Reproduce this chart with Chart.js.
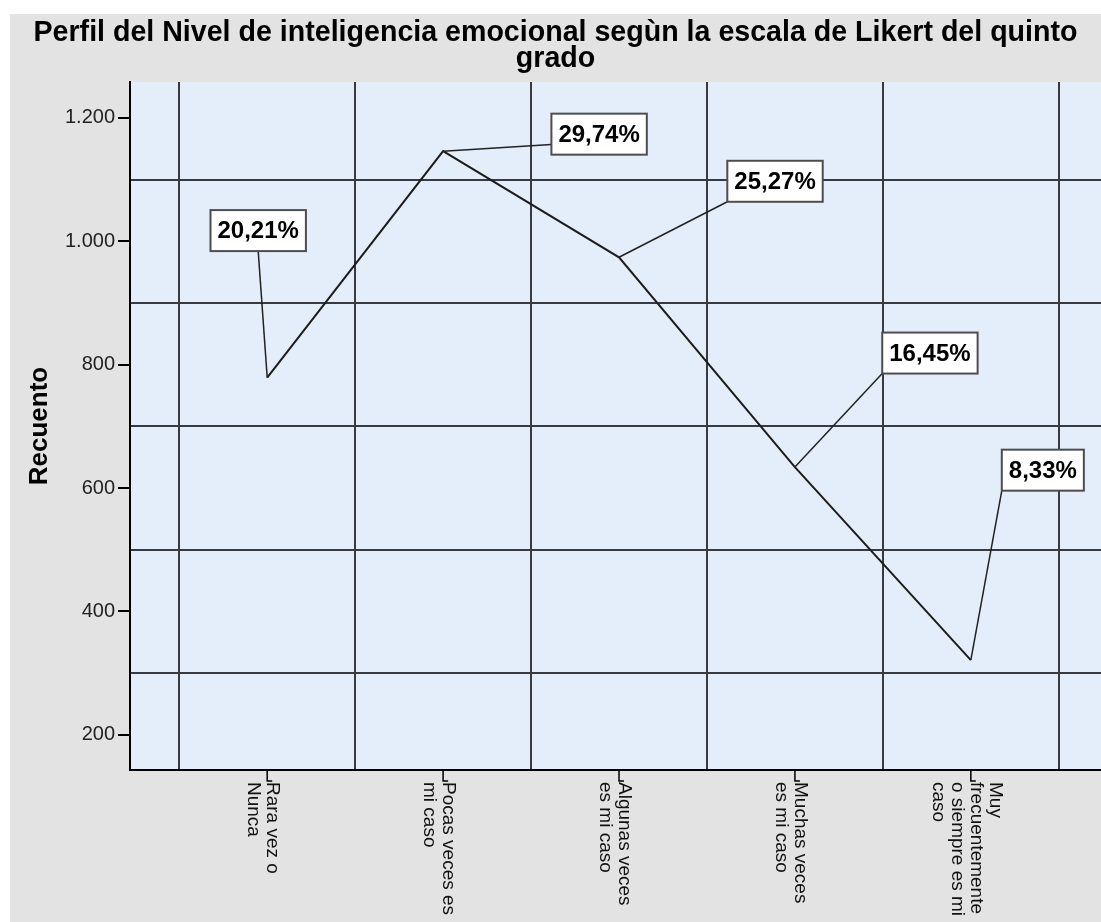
<!DOCTYPE html>
<html>
<head>
<meta charset="utf-8">
<title>Perfil del Nivel de inteligencia emocional</title>
<script src="https://cdn.jsdelivr.net/npm/chart.js"></script>
<style>
    body { margin: 0; background: #fff; }
    #wrap { width: 1101px; height: 922px; }
</style>
</head>
<body>
<div id="wrap"><canvas id="likertChart"></canvas></div>
<script>
// Categorías de la escala (cada una partida en líneas como en el gráfico)
var categories = [
    ['Rara vez o', 'Nunca'],
    ['Pocas veces es', 'mi caso'],
    ['Algunas veces', 'es mi caso'],
    ['Muchas veces', 'es mi caso'],
    ['Muy', 'frecuentemente', 'o siempre es mi', 'caso']
];
var counts = [779, 1146, 974, 634, 321];
var percents = ['20,21%', '29,74%', '25,27%', '16,45%', '8,33%'];
var yTickValues = [200, 400, 600, 800, 1000, 1200];
var yGridValues = [300, 500, 700, 900, 1100];

var FONT = '"Liberation Sans", Arial, sans-serif';
Chart.defaults.font.family = FONT;

function fmt(v) {
    return String(v).replace(/\B(?=(\d{3})+(?!\d))/g, '.');
}

// fondo gris + área del gráfico azul claro
var backgroundPlugin = {
    id: 'spssBackground',
    beforeDraw: function (chart) {
        var ctx = chart.ctx, a = chart.chartArea;
        ctx.save();
        ctx.fillStyle = '#ffffff';
        ctx.fillRect(0, 0, chart.width, chart.height);
        ctx.fillStyle = '#e3e3e3';
        ctx.fillRect(10, 14, chart.width - 10, chart.height - 14);
        ctx.fillStyle = '#e3eefa';
        ctx.fillRect(a.left, a.top, a.right - a.left, a.bottom - a.top);
        ctx.restore();
    }
};

// etiquetas de porcentaje con línea guía
var calloutPlugin = {
    id: 'callouts',
    afterDatasetsDraw: function (chart, args, opts) {
        var ctx = chart.ctx;
        var meta = chart.getDatasetMeta(0);
        ctx.save();
        ctx.font = 'bold 24px ' + FONT;
        ctx.textAlign = 'center';
        ctx.textBaseline = 'middle';
        meta.data.forEach(function (pt, i) {
            var p = opts.places[i];
            var w = ctx.measureText(percents[i]).width + 14;
            var h = 41;
            var cx = pt.x + p.dx, cy = pt.y + p.dy;
            var left = cx - w / 2, top = cy - h / 2;
            ctx.strokeStyle = '#222';
            ctx.lineWidth = 1.5;
            ctx.beginPath();
            ctx.moveTo(left + p.ax * w, top + p.ay * h);
            ctx.lineTo(pt.x, pt.y);
            ctx.stroke();
            ctx.fillStyle = '#fff';
            ctx.fillRect(left, top, w, h);
            ctx.strokeStyle = '#4d4d4d';
            ctx.lineWidth = 2;
            ctx.strokeRect(left, top, w, h);
            ctx.fillStyle = '#000';
            ctx.fillText(percents[i], cx, cy + 1);
        });
        ctx.restore();
    }
};

// etiquetas verticales del eje x (giradas hacia abajo) con su marca en L
var xLabelPlugin = {
    id: 'xLabels',
    afterDraw: function (chart) {
        var ctx = chart.ctx;
        var xs = chart.scales.x;
        var y0 = chart.chartArea.bottom;
        var pitch = 19;
        ctx.save();
        ctx.font = '19px ' + FONT;
        ctx.fillStyle = '#111';
        ctx.strokeStyle = '#000';
        ctx.lineWidth = 1.5;
        ctx.textAlign = 'left';
        ctx.textBaseline = 'middle';
        categories.forEach(function (lines, i) {
            var x = xs.getPixelForValue(i);
            ctx.beginPath();
            ctx.moveTo(x, y0);
            ctx.lineTo(x, y0 + 11);
            ctx.lineTo(x + 5, y0 + 11);
            ctx.stroke();
            ctx.save();
            ctx.translate(x, y0 + 12);
            ctx.rotate(Math.PI / 2);
            lines.forEach(function (line, j) {
                ctx.fillText(line, 0, (j - (lines.length - 1) / 2) * pitch + 4);
            });
            ctx.restore();
        });
        ctx.restore();
    }
};

new Chart(document.getElementById('likertChart').getContext('2d'), {
    type: 'line',
    data: {
        datasets: [{
            label: 'Recuento',
            data: counts.map(function (c, i) { return { x: i, y: c }; }),
            borderColor: '#1c1c1c',
            borderWidth: 2,
            pointRadius: 0,
            tension: 0,
            fill: false
        }]
    },
    options: {
        responsive: true,
        maintainAspectRatio: false,
        animation: false,
        layout: { padding: { left: 10, top: 14, right: 0, bottom: 0 } },
        plugins: {
            legend: { display: false },
            tooltip: { enabled: false },
            title: {
                display: true,
                text: ['Perfil del Nivel de inteligencia emocional segùn la escala de Likert del quinto', 'grado'],
                color: '#000',
                font: { size: 28.6, weight: 'bold', lineHeight: 0.91 },
                padding: { top: 6, bottom: 10 }
            },
            callouts: {
                places: [
                    { dx: -9, dy: -147, ax: 0.5, ay: 1 },
                    { dx: 156, dy: -17, ax: 0, ay: 0.75 },
                    { dx: 156, dy: -76, ax: 0, ay: 1 },
                    { dx: 135, dy: -114, ax: 0, ay: 1 },
                    { dx: 72, dy: -190, ax: 0, ay: 1 }
                ]
            }
        },
        scales: {
            x: {
                type: 'linear',
                min: -0.78,
                max: 4.74,
                afterBuildTicks: function (s) {
                    s.ticks = categories.map(function (c, i) { return { value: i }; });
                },
                afterFit: function (s) { s.height = 152; },
                ticks: { display: false },
                grid: { offset: true, color: '#373b41', lineWidth: 2, drawTicks: false },
                border: { display: true, color: '#000', width: 2 }
            },
            y: {
                min: 143,
                max: 1258,
                afterBuildTicks: function (s) {
                    s.ticks = yTickValues.concat(yGridValues)
                        .sort(function (a, b) { return a - b; })
                        .map(function (v) { return { value: v }; });
                },
                afterFit: function (s) { s.width = 120; },
                ticks: {
                    color: '#222',
                    font: { size: 20 },
                    padding: 3,
                    autoSkip: false,
                    callback: function (v) { return yTickValues.indexOf(v) >= 0 ? fmt(v) : ''; }
                },
                grid: {
                    color: function (c) { return yGridValues.indexOf(c.tick.value) >= 0 ? '#373b41' : 'rgba(0,0,0,0)'; },
                    tickColor: function (c) { return yTickValues.indexOf(c.tick.value) >= 0 ? '#000' : 'rgba(0,0,0,0)'; },
                    lineWidth: 2,
                    tickLength: 12
                },
                border: { display: true, color: '#000', width: 2 },
                title: {
                    display: true,
                    text: 'Recuento',
                    color: '#000',
                    font: { size: 26, weight: 'bold' },
                    padding: { top: 14, bottom: 0 }
                }
            }
        }
    },
    plugins: [backgroundPlugin, calloutPlugin, xLabelPlugin]
});
</script>
</body>
</html>
